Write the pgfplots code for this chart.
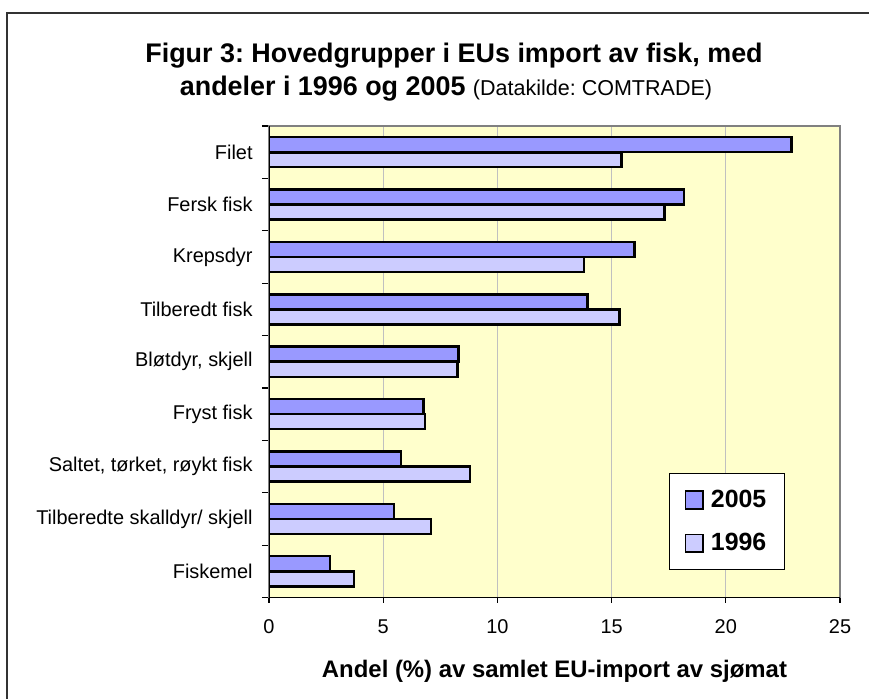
\documentclass[border=0pt]{standalone}
\usepackage{pgfplots}
\pgfplotsset{compat=1.18}
\usepackage{fontspec}
\setmainfont{Liberation Sans}
\frenchspacing

\definecolor{plotbg}{HTML}{FFFFCC}
\definecolor{bar05}{HTML}{9999FF}
\definecolor{bar96}{HTML}{CCCCFF}
\definecolor{gridgray}{HTML}{C0C0C0}
\definecolor{boxgray}{HTML}{808080}

\begin{document}
\begin{tikzpicture}[x=1bp,y=1bp]
\useasboundingbox (-134.5,-50.25) rectangle (300,298.75);
% frame (open at right and bottom, as in the original crop)
\draw[line width=1bp, black!80] (-131,-60) -- (-131,292.4) -- (310,292.4);

% title
\node[anchor=base, font=\fontsize{13.5}{16}\selectfont\bfseries] at (92.5,267.75)
  {Figur 3: Hovedgrupper i EUs import av fisk, med};
\node[anchor=base, font=\fontsize{13.5}{16}\selectfont\bfseries] at (88.5,251.25)
  {andeler i 1996 og 2005 {\mdseries\fontsize{10.8}{13}\selectfont (Datakilde: COMTRADE)}};

\begin{axis}[
    at={(0,0)}, anchor=south west,
    scale only axis,
    width=285.5bp, height=235.75bp,
    xbar, bar width=0.285,
    xmin=0, xmax=25,
    ymin=-0.5, ymax=8.5,
    xtick={0,5,...,25},
    ytick={0,...,8},
    yticklabels={Fiskemel, Tilberedte skalldyr/ skjell, {Saltet, tørket, røykt fisk},
                 Fryst fisk, {Bløtdyr, skjell}, Tilberedt fisk, Krepsdyr, Fersk fisk, Filet},
    minor ytick={-0.5,0.5,...,8.5},
    tick align=outside,
    major tick length=2.5bp,
    minor tick length=3.5bp,
    major y tick style={draw=none},
    minor y tick style={black, line width=0.6bp},
    major x tick style={black, line width=0.6bp},
    xtick pos=bottom, ytick pos=left,
    xmajorgrids=true,
    major x grid style={gridgray, line width=0.6bp},
    axis line style={boxgray, line width=0.8bp},
    axis background/.style={fill=plotbg},
    /pgf/number format/assume math mode=true,
    xticklabel style={font=\fontsize{10}{12}\selectfont, yshift=-5.2bp},
    yticklabel style={font=\fontsize{10}{12}\selectfont, xshift=-2.2bp},
    legend style={at={(rel axis cs:0.802,0.161)}, anchor=center,
                  draw=black, fill=white, line width=0.6bp,
                  font=\fontsize{12.5}{15}\selectfont\bfseries,
                  row sep=8.5bp, inner xsep=7.5bp, inner ysep=6.5bp,
                  nodes={inner sep=1.5bp},
                  /tikz/every odd column/.append style={column sep=2bp}},
    legend cell align=left,
    legend image code/.code={\draw[#1, draw=black, line width=0.9bp] (0bp,-4.4bp) rectangle (8.8bp,4.4bp);},
]
\addplot[fill=bar05, draw=black, line width=1.2bp, bar shift=0.145] coordinates {
    (22.88,8) (18.16,7) (16.00,6) (13.95,5) (8.29,4)
    (6.76,3) (5.78,2) (5.46,1) (2.66,0)
};
\addplot[fill=bar96, draw=black, line width=1.2bp, bar shift=-0.145] coordinates {
    (15.43,8) (17.32,7) (13.79,6) (15.35,5) (8.25,4)
    (6.83,3) (8.79,2) (7.09,1) (3.72,0)
};
\legend{2005,1996}
\draw[black, line width=0.8bp] (rel axis cs:0,1) -- (rel axis cs:0,0) -- (rel axis cs:1,0);
\end{axis}

% x axis title
\node[anchor=base, font=\fontsize{12}{14}\selectfont\bfseries] at (142.75,-39.75)
  {Andel (\%) av samlet EU-import av sjømat};
\end{tikzpicture}
\end{document}
